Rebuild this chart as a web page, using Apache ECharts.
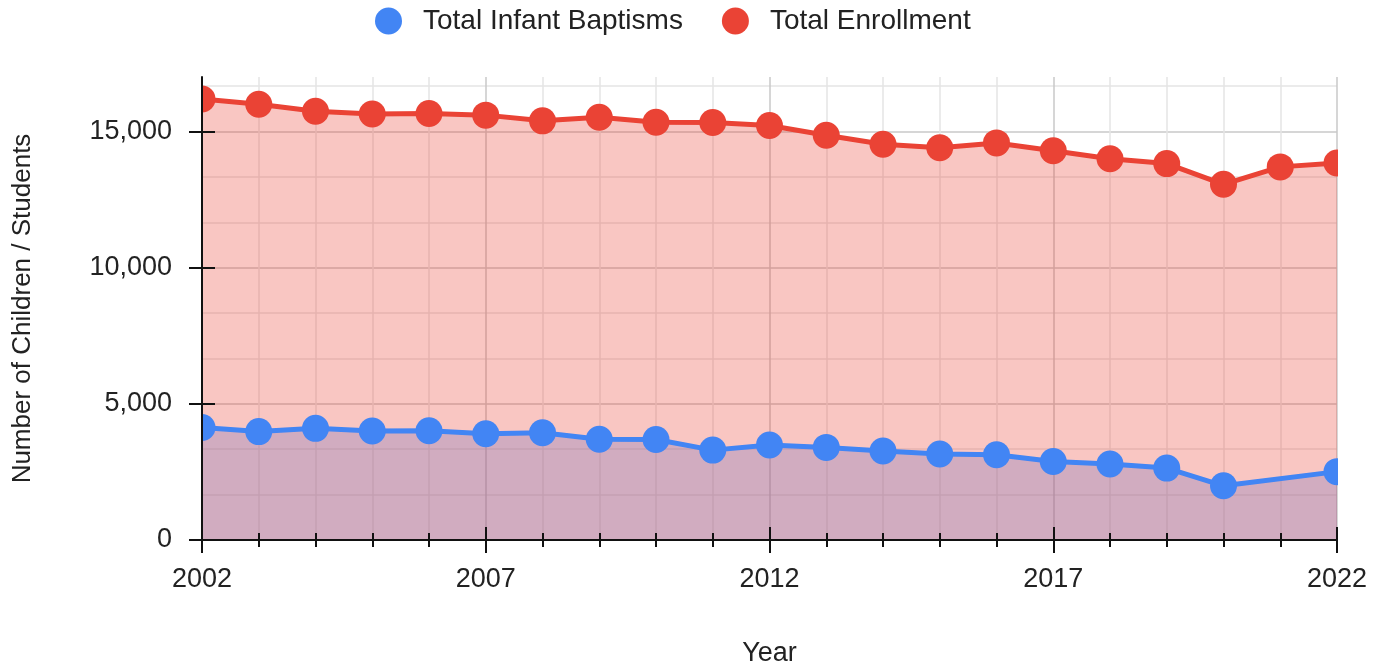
<!DOCTYPE html>
<html>
<head>
<meta charset="utf-8">
<script src="https://cdn.jsdelivr.net/npm/echarts@6/dist/echarts.min.js"></script>
<style>
  html, body { margin: 0; padding: 0; background: #fff; }
  #chart { width: 1379px; height: 667px; }
</style>
</head>
<body>
<div id="chart"></div>
<script>
var years = ['2002', '2003', '2004', '2005', '2006', '2007', '2008', '2009', '2010', '2011',
             '2012', '2013', '2014', '2015', '2016', '2017', '2018', '2019', '2020', '2021', '2022'];
var enrollment = [16190, 16000, 15740, 15640, 15660, 15600, 15390, 15520, 15340, 15330,
                  15220, 14860, 14530, 14400, 14580, 14290, 14000, 13820, 13060, 13700, 13840];
// 2021 has no baptism figure, the line jumps from 2020 to 2022
var baptisms = [4130, 3980, 4100, 4000, 4010, 3900, 3940, 3700, 3690, 3300,
                3490, 3400, 3270, 3160, 3130, 2880, 2790, 2640, 1990, null, 2510];
var yMajorTicks = [0, 5000, 10000, 15000];

var font = '"Liberation Sans", Arial, sans-serif';
var blue = '#4285F4';
var red = '#EA4335';
var gridMajor = '#c9c9c9';
var gridMinor = '#e4e4e4';

var dom = document.getElementById('chart');
var myChart = echarts.init(dom, null, {renderer: 'canvas'});

// extra axes only carry the ticks that cross the axis line
function tickX(len, inside, every, line) {
    return {
        type: 'category', data: years, boundaryGap: false, position: 'bottom', z: 10,
        axisLine: {show: line, lineStyle: {color: '#111', width: 2}},
        axisTick: {show: true, interval: every, length: len, inside: inside, lineStyle: {color: '#111', width: 2}},
        axisLabel: {show: false},
        splitLine: {show: false}
    };
}
function tickY(inside, line) {
    return {
        type: 'value', position: 'left', min: 0, max: 17000, interval: 5000, z: 10,
        axisLine: {show: line, lineStyle: {color: '#111', width: 2}},
        axisTick: {show: true, customValues: yMajorTicks, length: 13, inside: inside, lineStyle: {color: '#111', width: 2}},
        axisLabel: {show: false},
        splitLine: {show: false}
    };
}

var option = {
    animation: false,
    textStyle: {fontFamily: font},
    legend: {
        data: ['Total Infant Baptisms', 'Total Enrollment'],
        top: 2,
        left: 370,
        icon: 'circle',
        itemWidth: 27,
        itemHeight: 27,
        itemGap: 39,
        textStyle: {fontSize: 28, color: '#222', fontFamily: font, padding: [0, 0, 0, 16]}
    },
    grid: {left: 202, right: 42, top: 77, bottom: 127, outerBoundsMode: 'none'},
    xAxis: [
        {
            type: 'category',
            data: years,
            boundaryGap: false,
            name: 'Year',
            nameLocation: 'middle',
            nameGap: 100,
            nameTextStyle: {fontSize: 27, color: '#222', fontFamily: font},
            axisLine: {show: false},
            axisTick: {show: false},
            axisLabel: {interval: 4, fontSize: 27, color: '#222', fontFamily: font, margin: 26},
            splitLine: {
                show: true,
                interval: 0,
                lineStyle: {color: [gridMajor, gridMinor, gridMinor, gridMinor, gridMinor], width: 1.5}
            }
        },
        tickX(7, false, 0, true),
        tickX(7, true, 0, false),
        tickX(13, false, 4, false),
        tickX(13, true, 4, false)
    ],
    yAxis: [
        {
            type: 'value',
            min: 0,
            max: 17000,
            interval: 5000 / 3,
            name: 'Number of Children / Students',
            nameLocation: 'middle',
            nameGap: 166,
            nameTextStyle: {fontSize: 26, color: '#222', fontFamily: font},
            axisLine: {show: false},
            axisTick: {show: false},
            axisLabel: {
                fontSize: 27, color: '#222', fontFamily: font, margin: 30,
                formatter: function (v) {
                    var r = Math.round(v);
                    return r % 5000 === 0 ? echarts.format.addCommas(r) : '';
                }
            },
            splitLine: {
                show: true,
                showMaxLine: false,
                lineStyle: {color: [gridMajor, gridMinor, gridMinor], width: 1.5}
            }
        },
        tickY(false, true),
        tickY(true, false)
    ],
    series: [
        {
            // baptisms area under the enrollment fill
            name: 'Total Infant Baptisms',
            type: 'line',
            data: baptisms,
            connectNulls: true,
            showSymbol: false,
            itemStyle: {color: blue},
            lineStyle: {width: 0, opacity: 0},
            areaStyle: {color: blue, opacity: 0.3},
            z: 2
        },
        {
            name: 'Total Enrollment',
            type: 'line',
            data: enrollment,
            symbol: 'circle',
            symbolSize: 27,
            showAllSymbol: true,
            itemStyle: {color: red},
            lineStyle: {color: red, width: 5},
            areaStyle: {color: red, opacity: 0.3},
            z: 3
        },
        {
            name: 'Total Infant Baptisms',
            type: 'line',
            data: baptisms,
            connectNulls: true,
            symbol: 'circle',
            symbolSize: 27,
            showAllSymbol: true,
            itemStyle: {color: blue},
            lineStyle: {color: blue, width: 5},
            z: 4
        }
    ],
    // white strips hide the marker halves outside the plot
    graphic: [
        {type: 'rect', z: 5, silent: true, shape: {x: 176, y: 60, width: 25, height: 470}, style: {fill: '#fff'}},
        {type: 'rect', z: 5, silent: true, shape: {x: 1338, y: 60, width: 41, height: 470}, style: {fill: '#fff'}}
    ]
};

if (option && typeof option === 'object') {
    myChart.setOption(option);
}
</script>
</body>
</html>
